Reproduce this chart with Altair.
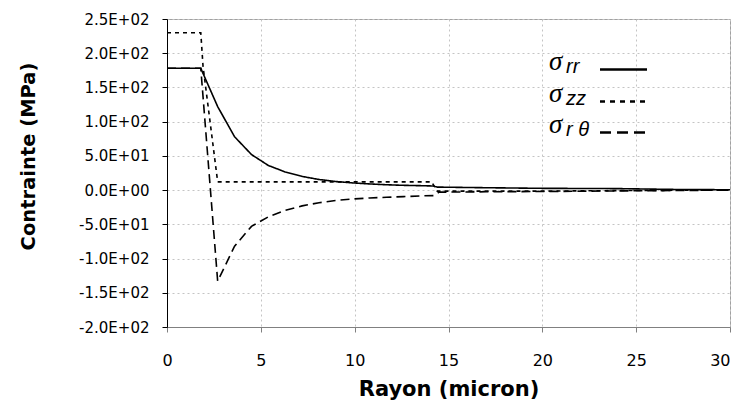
import altair as alt
import pandas as pd

# ---- data ----
r_rr = [0, 1.8, 2.7, 3.6, 4.5, 5.4, 6.3, 7.2, 8.1, 9.0, 9.9, 10.8, 11.7, 12.6, 13.5, 14.2, 14.4, 17, 20, 24, 27, 30]
s_rr = [178, 178, 122, 78, 52, 36, 26.5, 20, 15.5, 12.5, 10.5, 9, 7.8, 7, 6.5, 6, 4.4, 3.5, 2.6, 2.2, 1, 0.5]

r_zz = [0, 1.8, 1.92, 2.7, 14.1, 14.4, 20, 25, 30]
s_zz = [230, 230, 181, 12, 12, -1.5, -1.5, -0.5, 0]

r_rt = [0, 1.8, 2.7, 3.6, 4.5, 5.4, 6.3, 7.2, 8.1, 9.0, 9.9, 10.8, 11.7, 12.6, 13.5, 14.2, 14.5, 17, 20, 25, 30]
s_rt = [178, 178, -133, -82, -53, -39, -29.5, -23, -18.5, -15, -13, -11.5, -10.5, -9.5, -8.5, -8, -3, -2.5, -2, -1, 0]

series = ["rr", "zz", "rt"]
legend_subs = ["rr", "zz", "r θ"]

x_ticks = [0, 5, 10, 15, 20, 25, 30]
y_ticks = [-200, -150, -100, -50, 0, 50, 100, 150, 200, 250]
y_labels = ["-2.0E+02", "-1.5E+02", "-1.0E+02", "-5.0E+01", "0.0E+00",
            "5.0E+01", "1.0E+02", "1.5E+02", "2.0E+02", "2.5E+02"]

df = pd.concat([
    pd.DataFrame({"r": r_rr, "s": s_rr, "serie": series[0], "o": range(len(r_rr))}),
    pd.DataFrame({"r": r_zz, "s": s_zz, "serie": series[1], "o": range(len(r_zz))}),
    pd.DataFrame({"r": r_rt, "s": s_rt, "serie": series[2], "o": range(len(r_rt))}),
])

label_expr = ""
for v, lab in zip(y_ticks, y_labels):
    label_expr += f"datum.value == {v} ? '{lab}' : "
label_expr += "''"

FONT = "DejaVu Sans"

lines = alt.Chart(df).mark_line(color="black", strokeWidth=1.6, clip=True).encode(
    x=alt.X("r:Q", scale=alt.Scale(domain=[0, 30], nice=False),
            axis=alt.Axis(values=x_ticks, title="Rayon (micron)", grid=True,
                          gridDash=[2, 3], gridColor="#c4c4c4",
                          domainColor="#808080", tickColor="#808080", tickSize=5,
                          labelFont=FONT, labelFontSize=16, labelPadding=20,
                          labelColor="black", labelFlush=False,
                          labelAlign={"condition": {"test": "datum.value == 30", "value": "right"},
                                      "value": "center"},
                          titleFont=FONT, titleFontSize=21, titleFontWeight="bold",
                          titleBaseline="middle", titleY=62, titleColor="black")),
    y=alt.Y("s:Q", scale=alt.Scale(domain=[-200, 250], nice=False),
            axis=alt.Axis(values=y_ticks, labelExpr=label_expr, title="Contrainte (MPa)",
                          grid=True, gridDash=[2, 3], gridColor="#c4c4c4",
                          domainColor="black", tickColor="black", tickSize=5,
                          labelFont=FONT, labelFontSize=15, labelPadding=13,
                          labelColor="black", labelFlush=False,
                          titleFont=FONT, titleFontSize=19.5, titleFontWeight="bold",
                          titleBaseline="middle", titleX=-139, titleY=137,
                          titleColor="black")),
    strokeDash=alt.StrokeDash("serie:N", scale=alt.Scale(domain=series,
                              range=[[1, 0], [4, 4], [9, 5]]), legend=None),
    order="o:Q",
    detail="serie:N",
)

# ---- hand-made legend (positions in pixels inside the plot area) ----
rows_y = [51, 83, 114]
dashes = [[1, 0], [5, 5], [11, 6]]
legend_layers = []
for i, sub in enumerate(legend_subs):
    one = pd.DataFrame({"sym": ["σ"], "sub": [sub]})
    legend_layers.append(
        alt.Chart(one).mark_text(font="Liberation Serif", fontSize=27, fontStyle="italic",
                                 align="left", baseline="alphabetic", color="black")
        .encode(x=alt.value(382), y=alt.value(rows_y[i]), text="sym:N"))
    legend_layers.append(
        alt.Chart(one).mark_text(font="Liberation Sans", fontSize=20, fontStyle="italic",
                                 align="left", baseline="alphabetic", color="black")
        .encode(x=alt.value(399), y=alt.value(rows_y[i] + 3), text="sub:N"))
    legend_layers.append(
        alt.Chart(one).mark_rule(color="black", strokeWidth=2.5, strokeDash=dashes[i])
        .encode(x=alt.value(433), x2=alt.value(480), y=alt.value(rows_y[i] - 0.5)))

chart = alt.layer(lines, *legend_layers).properties(
    width=563, height=308,
    autosize=alt.AutoSizeParams(type="none"),
    padding={"left": 159, "top": 11, "right": 2, "bottom": 79},
).configure_view(stroke="#a0a0a0", strokeWidth=1)

chart.save("out.html", embed_options={"renderer": "svg", "actions": False})
